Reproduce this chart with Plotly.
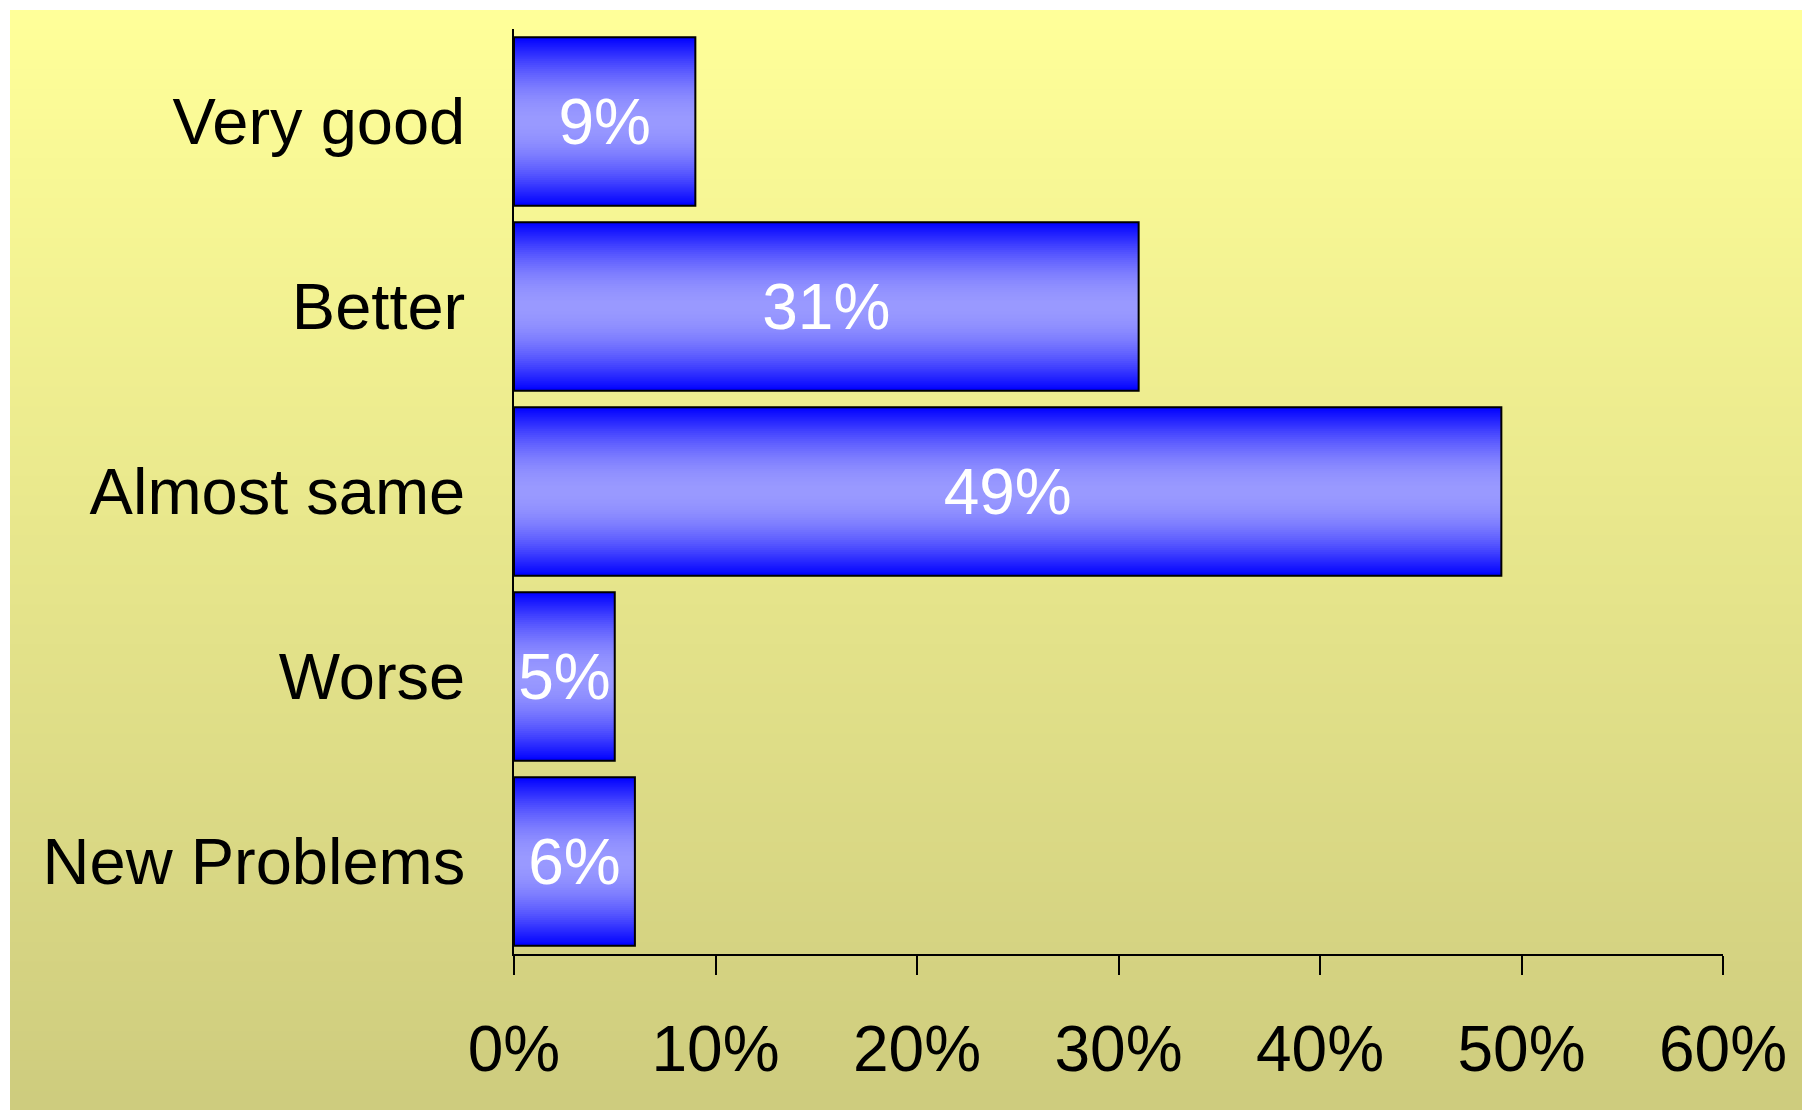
import math
import plotly.graph_objects as go

# Survey results
categories = ["Very good", "Better", "Almost same", "Worse", "New Problems"]
values = [9, 31, 49, 5, 6]
bar_labels = ["9%", "31%", "49%", "5%", "6%"]
x_tickvals = [0, 10, 20, 30, 40, 50, 60]
x_ticktext = ["0%", "10%", "20%", "30%", "40%", "50%", "60%"]

W, H = 1802, 1110
M_L, M_R, M_T, M_B = 514, 79, 29, 156
FONT = "Liberation Sans, Arial, sans-serif"

BAR_W = 0.91      # bar thickness in category units
N_SLICES = 85     # slices used to shade each bar across its thickness


def to_paper_x(px):
    return (px - M_L) / (W - M_L - M_R)


def to_paper_y(py):
    return (H - M_B - py) / (H - M_T - M_B)


fig = go.Figure()

# Shaded bars: blue at the edges, lighter violet-blue through the centre.
# Each slice is twice the step wide so the next one overlaps it (no seams).
step = BAR_W / N_SLICES
for k in range(N_SLICES):
    t = (k + 0.5) / N_SLICES
    light = int(round(153 * math.sin(math.pi * t)))
    w = step * 2 if k < N_SLICES - 1 else step
    fig.add_trace(go.Bar(
        x=values, y=categories, orientation="h",
        width=w, offset=-BAR_W / 2 + k * step,
        marker=dict(color=f"rgb({light},{light},255)", line=dict(width=0)),
        hoverinfo="skip", showlegend=False,
    ))

# Outline and value labels
fig.add_trace(go.Bar(
    x=values, y=categories, orientation="h",
    width=BAR_W, offset=-BAR_W / 2,
    marker=dict(color="rgba(0,0,0,0)", line=dict(color="black", width=2)),
    text=bar_labels, textposition="inside", insidetextanchor="middle",
    textangle=0, constraintext="none",
    textfont=dict(family=FONT, size=64, color="white"),
    showlegend=False,
))

# Yellow background fading darker towards the bottom, leaving a white strip top/left
shapes = []
n_bands = 111
top_px, left_px = 10, 10
c_top = (255, 255, 153)
c_bot = (206, 204, 126)
band_h = (H - top_px) / n_bands
for i in range(n_bands):
    f = i / (n_bands - 1)
    col = tuple(int(round(a + (b - a) * f)) for a, b in zip(c_top, c_bot))
    y0 = top_px + i * band_h
    y1 = min(H + 2, y0 + band_h + 1)
    shapes.append(dict(
        type="rect", xref="paper", yref="paper", layer="below",
        x0=to_paper_x(left_px), x1=to_paper_x(W + 2),
        y0=to_paper_y(y1), y1=to_paper_y(y0),
        fillcolor=f"rgb{col}", line=dict(width=0),
    ))

fig.update_layout(
    width=W, height=H,
    margin=dict(l=M_L, r=M_R, t=M_T, b=M_B, autoexpand=False),
    paper_bgcolor="white",
    plot_bgcolor="rgba(0,0,0,0)",
    barmode="overlay",
    shapes=shapes,
    font=dict(family=FONT, color="black"),
    xaxis=dict(
        range=[0, 60], tickvals=x_tickvals, ticktext=x_ticktext,
        automargin=False,
        showgrid=False, zeroline=False,
        showline=True, linecolor="black", linewidth=2,
        ticks="outside", ticklen=19, tickwidth=1.5, tickcolor="black",
        tickfont=dict(family=FONT, size=64, color="black"),
        ticklabelstandoff=19,
    ),
    yaxis=dict(
        autorange="reversed", automargin=False,
        showgrid=False, zeroline=False,
        showline=True, linecolor="black", linewidth=1.5,
        ticks="", ticklabelstandoff=34,
        tickfont=dict(family=FONT, size=65, color="black"),
    ),
)

fig.write_html("out.html")
